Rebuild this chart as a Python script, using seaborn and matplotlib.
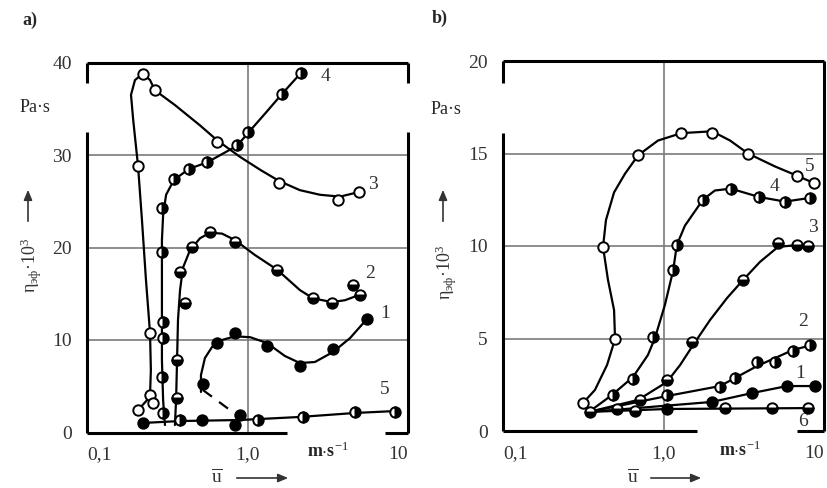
import matplotlib
matplotlib.use('Agg')
import matplotlib.pyplot as plt
import pandas as pd
import seaborn as sns

# ---- panel a) : values ----
a3_line_x = [0.208, 0.237, 0.247, 0.250, 0.247, 0.233, 0.220, 0.208, 0.194, 0.188, 0.199, 0.223, 0.247, 0.265,
             0.353, 0.506, 0.646, 0.898, 1.20, 1.57, 2.12, 2.83, 3.77, 4.95]
a3_line_y = [2.43, 3.51, 4.05, 6.76, 10.76, 16.5, 22.97, 28.8, 33.8, 36.5, 38.1, 38.8, 38.1, 37.0,
             35.4, 33.2, 31.6, 29.8, 28.4, 27.2, 26.2, 25.7, 25.5, 26.0]
a3_pts_x = [0.208, 0.247, 0.258, 0.247, 0.208, 0.223, 0.265, 0.646, 1.57, 3.66, 4.95]
a3_pts_y = [2.43, 4.05, 3.2, 10.76, 28.8, 38.8, 37.0, 31.4, 27.0, 25.1, 26.0]

a4_line_x = [0.306, 0.298, 0.293, 0.293, 0.293, 0.298, 0.311, 0.348, 0.432, 0.560, 0.861, 1.01, 1.29, 1.64, 2.16]
a4_line_y = [0.81, 3.51, 7.84, 14.3, 20.8, 23.5, 25.7, 27.3, 28.5, 29.2, 31.0, 32.4, 34.5, 36.6, 38.9]
a4_pts_x = [0.298, 0.293, 0.298, 0.298, 0.293, 0.293, 0.348, 0.432, 0.560, 0.861, 1.01, 1.64, 2.16]
a4_pts_y = [2.11, 6.0, 10.2, 11.9, 19.5, 24.3, 27.4, 28.5, 29.2, 31.1, 32.5, 36.6, 38.9]

a2_line_x = [0.353, 0.359, 0.364, 0.369, 0.380, 0.396, 0.438, 0.506, 0.584, 0.694, 0.836, 1.11, 1.53, 2.12,
             2.56, 3.36, 4.05, 5.02]
a2_line_y = [0.81, 3.51, 7.84, 12.2, 15.4, 17.8, 19.7, 21.0, 21.6, 21.5, 20.8, 19.2, 17.6, 15.4,
             14.5, 14.1, 14.3, 14.9]
a2_pts_x = [0.364, 0.364, 0.408, 0.380, 0.451, 0.584, 0.836, 1.53, 2.56, 3.36, 4.54, 5.02]
a2_pts_y = [3.73, 7.84, 14.0, 17.35, 20.05, 21.7, 20.6, 17.6, 14.5, 14.0, 15.9, 14.9]

a1_line_x = [0.513, 0.513, 0.543, 0.601, 0.694, 0.836, 1.04, 1.32, 1.71, 2.12, 2.63, 3.41, 4.35, 5.55]
a1_line_y = [4.38, 6.22, 8.05, 9.24, 10.0, 10.4, 10.3, 9.68, 8.27, 7.51, 7.62, 8.70, 10.2, 12.27]
a1_dash_x = [0.528, 0.873]
a1_dash_y = [4.59, 1.78]
a1_pts_x = [0.223, 0.521, 0.836, 0.898, 0.528, 0.646, 0.836, 1.32, 2.12, 3.41, 5.55]
a1_pts_y = [1.03, 1.35, 0.81, 1.89, 5.24, 9.68, 10.76, 9.35, 7.19, 9.03, 12.27]

a5_line_x = [0.223, 0.380, 0.898, 2.12, 4.67, 8.30]
a5_line_y = [1.03, 1.24, 1.35, 1.68, 2.11, 2.32]
a5_pts_x = [0.380, 1.16, 2.22, 4.67, 8.30]
a5_pts_y = [1.35, 1.35, 1.68, 2.22, 2.22]

# ---- panel b) ----
b5_line_x = [0.315, 0.374, 0.445, 0.499, 0.492, 0.451, 0.420, 0.438, 0.492, 0.575, 0.694, 0.924, 1.29, 2.01,
             2.60, 3.36, 4.95, 6.79, 8.67]
b5_line_y = [1.51, 2.22, 3.57, 4.97, 6.54, 8.16, 9.95, 11.4, 12.9, 13.9, 14.9, 15.7, 16.1, 16.2,
             15.7, 15.0, 14.3, 13.8, 13.4]
b5_pts_x = [0.315, 0.499, 0.420, 0.694, 1.29, 2.01, 3.36, 6.79, 8.67]
b5_pts_y = [1.51, 4.97, 9.95, 14.9, 16.1, 16.1, 14.97, 13.8, 13.4]

b4_line_x = [0.343, 0.478, 0.646, 0.800, 0.885, 1.02, 1.15, 1.21, 1.36, 1.76, 2.09, 2.63, 3.94, 5.71, 8.18]
b4_line_y = [1.03, 1.95, 2.92, 4.11, 5.03, 6.81, 8.70, 10.05, 11.1, 12.5, 13.0, 13.1, 12.65, 12.4, 12.6]
b4_pts_x = [0.485, 0.646, 0.861, 1.15, 1.21, 1.76, 2.63, 3.94, 5.71, 8.18]
b4_pts_y = [1.95, 2.81, 5.08, 8.70, 10.05, 12.5, 13.1, 12.65, 12.4, 12.6]

b3_line_x = [0.343, 0.694, 1.05, 1.27, 1.53, 1.95, 2.49, 3.13, 3.99, 5.17, 6.79, 7.94]
b3_line_y = [1.03, 1.68, 2.65, 3.57, 4.65, 6.0, 7.19, 8.16, 9.14, 9.95, 10.05, 10.0]
b3_pts_x = [0.714, 1.05, 1.51, 3.13, 5.17, 6.79, 7.94]
b3_pts_y = [1.68, 2.76, 4.81, 8.16, 10.16, 10.05, 10.0]

b2_line_x = [0.343, 1.05, 2.25, 3.83, 6.41, 8.42]
b2_line_y = [1.03, 1.89, 2.43, 3.51, 4.38, 4.65]
b2_pts_x = [1.05, 2.25, 2.79, 3.83, 4.95, 6.41, 8.18]
b2_pts_y = [1.95, 2.38, 2.86, 3.73, 3.73, 4.32, 4.65]

b1_line_x = [0.343, 2.00, 3.56, 5.88, 8.79]
b1_line_y = [1.03, 1.57, 2.05, 2.43, 2.43]
b1_pts_x = [1.05, 2.00, 3.56, 5.88, 8.79]
b1_pts_y = [1.19, 1.57, 2.05, 2.43, 2.43]

b6_line_x = [0.343, 1.05, 8.42]
b6_line_y = [1.03, 1.19, 1.24]
b6_pts_x = [0.348, 0.513, 0.664, 2.42, 4.74, 7.94]
b6_pts_y = [1.03, 1.19, 1.08, 1.24, 1.24, 1.24]

sns.set_style("white")
plt.rcParams['font.family'] = ['Liberation Serif', 'DejaVu Serif']
plt.rcParams['mathtext.fontset'] = 'custom'
plt.rcParams['mathtext.rm'] = 'Liberation Serif'
plt.rcParams['mathtext.it'] = 'Liberation Serif:italic'
plt.rcParams['mathtext.bf'] = 'Liberation Serif:bold'

W, H = 827, 488
fig = plt.figure(figsize=(8.27, 4.88), dpi=100)
axa = fig.add_axes([87 / W, 1 - 432.5 / H, 321 / W, 370 / H])
axb = fig.add_axes([503 / W, 1 - 431 / H, 321 / W, 370 / H])


def P(px, py):
    return px / W, 1 - py / H


def draw_curve(ax, lx, ly, px_, py_, fill, ls='-'):
    d = pd.DataFrame({'x': lx, 'y': ly})
    sns.lineplot(data=d, x='x', y='y', ax=ax, sort=False, estimator=None,
                 color='black', lw=1.6, linestyle=ls)
    if px_ is None:
        return
    if fill == 'open':
        ax.plot(px_, py_, 'o', ms=7.5, mfc='white', mec='black', mew=1.4, zorder=5)
    else:
        ax.plot(px_, py_, 'o', ms=7.5, fillstyle=fill, mfc='black', mfcalt='white',
                mec='black', mew=1.4, zorder=5)


def frame(ax, ymax, yticks, left_gap, bot_gap, right_gap):
    ax.set_xscale('log')
    ax.set_xlim(0.1, 10)
    ax.set_ylim(0, ymax)
    for s in ax.spines.values():
        s.set_visible(False)
    ax.axvline(1, color='#7a7a7a', lw=1.2, zorder=0)
    for v in yticks[1:-1]:
        ax.axhline(v, color='#7a7a7a', lw=1.2, zorder=0)
    kw = dict(transform=ax.transAxes, color='black', lw=2.2, clip_on=False, solid_capstyle='butt')
    ax.plot([0, 1], [1, 1], **kw)
    ax.plot([0, 0], [1, left_gap[1]], **kw)
    ax.plot([0, 0], [left_gap[0], 0], **kw)
    ax.plot([0, bot_gap[0]], [0, 0], **kw)
    ax.plot([bot_gap[1], 1], [0, 0], **kw)
    if right_gap is None:
        ax.plot([1, 1], [0, 1], **kw)
    else:
        ax.plot([1, 1], [1, right_gap[1]], **kw)
        ax.plot([1, 1], [right_gap[0], 0], **kw)
    ax.set_xticks([0.1, 1, 10])
    ax.set_xticks([], minor=True)
    ax.set_xticklabels(['0,1', '1,0', '10'], fontsize=14, color='#333333')
    labs = ax.get_xticklabels()
    labs[0].set_ha('left')
    labs[2].set_ha('right')
    ax.set_yticks(yticks)
    ax.set_yticklabels([str(v) for v in yticks], fontsize=14, color='#333333')
    ax.tick_params(length=0)
    ax.tick_params(axis='x', pad=10)
    ax.tick_params(axis='y', pad=11)


draw_curve(axa, a3_line_x, a3_line_y, a3_pts_x, a3_pts_y, 'open')
draw_curve(axa, a4_line_x, a4_line_y, a4_pts_x, a4_pts_y, 'right')
draw_curve(axa, a2_line_x, a2_line_y, a2_pts_x, a2_pts_y, 'bottom')
draw_curve(axa, a5_line_x, a5_line_y, a5_pts_x, a5_pts_y, 'right')
draw_curve(axa, a1_line_x, a1_line_y, a1_pts_x, a1_pts_y, 'full')
draw_curve(axa, a1_dash_x, a1_dash_y, None, None, None, ls=(0, (5, 4)))

draw_curve(axb, b5_line_x, b5_line_y, b5_pts_x, b5_pts_y, 'open')
draw_curve(axb, b4_line_x, b4_line_y, b4_pts_x, b4_pts_y, 'right')
draw_curve(axb, b3_line_x, b3_line_y, b3_pts_x, b3_pts_y, 'bottom')
draw_curve(axb, b2_line_x, b2_line_y, b2_pts_x, b2_pts_y, 'right')
draw_curve(axb, b6_line_x, b6_line_y, b6_pts_x, b6_pts_y, 'bottom')
draw_curve(axb, b1_line_x, b1_line_y, b1_pts_x, b1_pts_y, 'full')

frame(axa, 40, [0, 10, 20, 30, 40], (0.812, 0.945), (0.623, 0.928), (0.812, 0.945))
frame(axb, 20, [0, 5, 10, 15, 20], (0.805, 0.94), (0.605, 0.916), None)
for ax in (axa, axb):
    ax.set_xlabel('')
    ax.set_ylabel('')

# curve numbers
for ax, lbls in [(axa, [('4', 3.04, 38.5), ('3', 6.05, 26.8), ('2', 5.80, 17.2), ('1', 7.19, 12.9), ('5', 7.19, 4.6)]),
                 (axb, [('5', 8.18, 14.3), ('4', 4.95, 13.2), ('3', 8.5, 11.0), ('2', 7.4, 5.9), ('1', 7.1, 3.1), ('6', 7.4, 0.5)])]:
    for t, x, y in lbls:
        ax.text(x, y, t, fontsize=14, color='#333333', ha='center', va='center')

# panel letters, units and axis captions
for lab, ppos in [('a)', (30, 20)), ('b)', (440, 18))]:
    fig.text(*P(*ppos), lab, fontsize=13, fontweight='bold', ha='center', va='center')
for ppos in [(35, 108), (446, 110)]:
    fig.text(*P(*ppos), 'Pa·s', fontsize=13, ha='center', va='center')
for ppos in [(31, 265), (446, 272)]:
    fig.text(*P(*ppos), r'η$_{\mathrm{эф}}$·10$^{3}$', fontsize=13, rotation=90,
             ha='center', va='center', color='#333333')
for x0 in [28, 443]:
    fig.add_artist(matplotlib.patches.FancyArrowPatch(P(x0, 224), P(x0, 187), transform=fig.transFigure,
                                                      arrowstyle='-|>,head_length=6,head_width=2.5',
                                                      color='#333333', lw=1.2))
for ppos in [(328, 451), (740, 450)]:
    fig.text(*P(*ppos), r'm$\cdot$s$^{-1}$', fontsize=13, fontweight='bold', ha='center', va='center')
for ux, a0, a1 in [(217, 234, 291), (633, 648, 704)]:
    fig.text(*P(ux, 477), r'$\overline{\mathrm{u}}$', fontsize=14, ha='center', va='center', color='#333333')
    fig.add_artist(matplotlib.patches.FancyArrowPatch(P(a0, 478), P(a1, 478), transform=fig.transFigure,
                                                      arrowstyle='-|>,head_length=6,head_width=2.5',
                                                      color='#333333', lw=1.2))

plt.savefig('out.png', dpi=100)
